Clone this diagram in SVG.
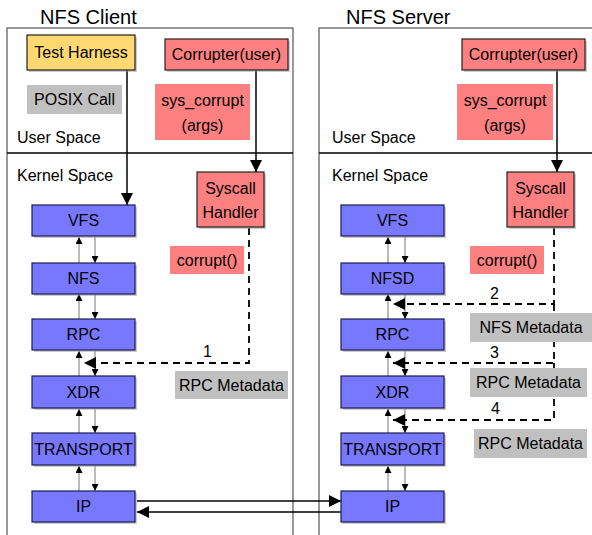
<svg xmlns="http://www.w3.org/2000/svg" width="592" height="535" viewBox="0 0 592 535">
<style>
text{font-family:"Liberation Sans",Arial,sans-serif;fill:#000;}
.t{font-size:16px;text-anchor:middle;}
.s{font-size:16px;}
.h{font-size:20px;}
.panel{fill:#fff;stroke:#555;stroke-width:1.2;}
.div{stroke:#000;stroke-width:1.5;}
.blue{fill:#7878ff;stroke:#1c1c50;stroke-width:1.2;}
.yel{fill:#ffd872;stroke:#222;stroke-width:1.2;}
.red{fill:#ff8080;stroke:#222;stroke-width:1.2;}
.redn{fill:#ff8080;}
.gray{fill:#c0c0c0;}
.sh{fill:#999;opacity:0.5;}
.thin{stroke:#777;stroke-width:1;fill:none;}
.solid{stroke:#000;stroke-width:1.5;fill:none;}
.dash{stroke:#000;stroke-width:1.8;fill:none;stroke-dasharray:7,5;}
</style>
<defs>
<marker id="a" viewBox="0 0 10 10" refX="10" refY="5" markerWidth="7" markerHeight="7" markerUnits="userSpaceOnUse" orient="auto"><path d="M0,0L10,5L0,10z" fill="#000"/></marker>
<marker id="b" viewBox="0 0 10 10" refX="10" refY="5" markerWidth="12" markerHeight="12" markerUnits="userSpaceOnUse" orient="auto"><path d="M0,0L10,5L0,10z" fill="#000"/></marker>
</defs>
<rect width="592" height="535" fill="#fff"/>
<g id="client-panel">
<rect class="panel" x="7" y="28" width="286" height="515"/>
<line class="div" x1="7" y1="153" x2="293" y2="153"/>
<text class="h" x="40" y="24">NFS Client</text>
<text class="s" x="17" y="143">User Space</text>
<text class="s" x="17" y="181">Kernel Space</text>
</g>
<g id="server-panel">
<rect class="panel" x="319" y="28" width="290" height="515"/>
<line class="div" x1="319" y1="153" x2="592" y2="153"/>
<text class="h" x="346" y="24">NFS Server</text>
<text class="s" x="332" y="143">User Space</text>
<text class="s" x="332" y="181">Kernel Space</text>
</g>
<g id="connectors">
<line class="solid" x1="127" y1="70" x2="127" y2="205" marker-end="url(#b)"/>
<line class="solid" x1="256" y1="70" x2="256" y2="172" marker-end="url(#b)"/>
<line class="solid" x1="557" y1="70" x2="557" y2="172" marker-end="url(#b)"/>
<line class="thin" x1="79" y1="263" x2="79" y2="237" marker-end="url(#a)"/>
<line class="thin" x1="95" y1="237" x2="95" y2="263" marker-end="url(#a)"/>
<line class="thin" x1="79" y1="319" x2="79" y2="294" marker-end="url(#a)"/>
<line class="thin" x1="95" y1="294" x2="95" y2="319" marker-end="url(#a)"/>
<line class="thin" x1="79" y1="376" x2="79" y2="351" marker-end="url(#a)"/>
<line class="thin" x1="95" y1="351" x2="95" y2="376" marker-end="url(#a)"/>
<line class="thin" x1="79" y1="433" x2="79" y2="409" marker-end="url(#a)"/>
<line class="thin" x1="95" y1="409" x2="95" y2="433" marker-end="url(#a)"/>
<line class="thin" x1="79" y1="491" x2="79" y2="466" marker-end="url(#a)"/>
<line class="thin" x1="95" y1="466" x2="95" y2="491" marker-end="url(#a)"/>
<line class="thin" x1="388" y1="263" x2="388" y2="237" marker-end="url(#a)"/>
<line class="thin" x1="405" y1="237" x2="405" y2="263" marker-end="url(#a)"/>
<line class="thin" x1="388" y1="319" x2="388" y2="294" marker-end="url(#a)"/>
<line class="thin" x1="405" y1="294" x2="405" y2="319" marker-end="url(#a)"/>
<line class="thin" x1="388" y1="376" x2="388" y2="351" marker-end="url(#a)"/>
<line class="thin" x1="405" y1="351" x2="405" y2="376" marker-end="url(#a)"/>
<line class="thin" x1="388" y1="433" x2="388" y2="409" marker-end="url(#a)"/>
<line class="thin" x1="405" y1="409" x2="405" y2="433" marker-end="url(#a)"/>
<line class="thin" x1="388" y1="491" x2="388" y2="466" marker-end="url(#a)"/>
<line class="thin" x1="405" y1="466" x2="405" y2="491" marker-end="url(#a)"/>
<polyline class="dash" points="249,228 249,363 84,363" marker-end="url(#b)"/>
<polyline class="dash" points="554,228 554,304 393,304" marker-end="url(#b)"/>
<polyline class="dash" points="554,304 554,363 393,363" marker-end="url(#b)"/>
<polyline class="dash" points="554,363 554,420 393,420" marker-end="url(#b)"/>
<text class="s" x="203" y="357">1</text>
<text class="s" x="490" y="299">2</text>
<text class="s" x="490" y="358">3</text>
<text class="s" x="491" y="414">4</text>
<line class="solid" x1="137" y1="501" x2="341" y2="501" marker-end="url(#b)"/>
<line class="solid" x1="341" y1="512" x2="137" y2="512" marker-end="url(#b)"/>
</g>
<g id="test-harness"><rect class="sh" x="29" y="37" width="108" height="35"/><rect class="yel" x="27" y="35" width="108" height="35"/><text class="t" x="81" y="58">Test Harness</text></g>
<g id="corrupter-client"><rect class="sh" x="167" y="41" width="123" height="31"/><rect class="red" x="165" y="39" width="123" height="31"/><text class="t" x="226.5" y="60">Corrupter(user)</text></g>
<g id="posix-call"><rect class="gray" x="27" y="85" width="95" height="29"/><text class="t" x="74.5" y="105">POSIX Call</text></g>
<g id="sys-corrupt-client"><rect class="redn" x="155" y="84" width="95" height="56"/><text class="t" x="202.5" y="106">sys_corrupt</text><text class="t" x="202.5" y="131">(args)</text></g>
<g id="syscall-client"><rect class="sh" x="199" y="174" width="67" height="55"/><rect class="red" x="197" y="172" width="67" height="55"/><text class="t" x="230.5" y="194">Syscall</text><text class="t" x="230.5" y="218">Handler</text></g>
<g id="corrupt-client"><rect class="redn" x="170" y="246" width="74" height="28"/><text class="t" x="207" y="266">corrupt()</text></g>
<g id="rpcmeta-client"><rect class="gray" x="175" y="371" width="113" height="28"/><text class="t" x="231.5" y="391">RPC Metadata</text></g>
<g id="c-vfs"><rect class="sh" x="34" y="207" width="103" height="31"/><rect class="blue" x="32" y="205" width="103" height="31"/><text class="t" x="83.5" y="226">VFS</text></g>
<g id="c-nfs"><rect class="sh" x="34" y="265" width="103" height="31"/><rect class="blue" x="32" y="263" width="103" height="31"/><text class="t" x="83.5" y="284">NFS</text></g>
<g id="c-rpc"><rect class="sh" x="34" y="321" width="103" height="31"/><rect class="blue" x="32" y="319" width="103" height="31"/><text class="t" x="83.5" y="340">RPC</text></g>
<g id="c-xdr"><rect class="sh" x="34" y="378" width="103" height="32"/><rect class="blue" x="32" y="376" width="103" height="32"/><text class="t" x="83.5" y="398">XDR</text></g>
<g id="c-transport"><rect class="sh" x="34" y="435" width="103" height="32"/><rect class="blue" x="32" y="433" width="103" height="32"/><text class="t" x="83.5" y="455">TRANSPORT</text></g>
<g id="c-ip"><rect class="sh" x="34" y="493" width="103" height="31"/><rect class="blue" x="32" y="491" width="103" height="31"/><text class="t" x="83.5" y="512">IP</text></g>
<g id="corrupter-server"><rect class="sh" x="464" y="41" width="123" height="31"/><rect class="red" x="462" y="39" width="123" height="31"/><text class="t" x="523.5" y="60">Corrupter(user)</text></g>
<g id="sys-corrupt-server"><rect class="redn" x="457" y="84" width="96" height="56"/><text class="t" x="505" y="106">sys_corrupt</text><text class="t" x="505" y="131">(args)</text></g>
<g id="syscall-server"><rect class="sh" x="509" y="174" width="67" height="55"/><rect class="red" x="507" y="172" width="67" height="55"/><text class="t" x="540.5" y="194">Syscall</text><text class="t" x="540.5" y="218">Handler</text></g>
<g id="corrupt-server"><rect class="redn" x="470" y="246" width="74" height="28"/><text class="t" x="507" y="266">corrupt()</text></g>
<g id="nfsmeta-server"><rect class="gray" x="470" y="313" width="122" height="29"/><text class="t" x="531" y="333">NFS Metadata</text></g>
<g id="rpcmeta-server-1"><rect class="gray" x="470" y="368" width="117" height="29"/><text class="t" x="528.5" y="388">RPC Metadata</text></g>
<g id="rpcmeta-server-2"><rect class="gray" x="474" y="429" width="113" height="29"/><text class="t" x="530.5" y="449">RPC Metadata</text></g>
<g id="s-vfs"><rect class="sh" x="343" y="207" width="103" height="31"/><rect class="blue" x="341" y="205" width="103" height="31"/><text class="t" x="392.5" y="226">VFS</text></g>
<g id="s-nfsd"><rect class="sh" x="343" y="265" width="103" height="31"/><rect class="blue" x="341" y="263" width="103" height="31"/><text class="t" x="392.5" y="284">NFSD</text></g>
<g id="s-rpc"><rect class="sh" x="343" y="321" width="103" height="31"/><rect class="blue" x="341" y="319" width="103" height="31"/><text class="t" x="392.5" y="340">RPC</text></g>
<g id="s-xdr"><rect class="sh" x="343" y="378" width="103" height="32"/><rect class="blue" x="341" y="376" width="103" height="32"/><text class="t" x="392.5" y="398">XDR</text></g>
<g id="s-transport"><rect class="sh" x="343" y="435" width="103" height="32"/><rect class="blue" x="341" y="433" width="103" height="32"/><text class="t" x="392.5" y="455">TRANSPORT</text></g>
<g id="s-ip"><rect class="sh" x="343" y="493" width="103" height="31"/><rect class="blue" x="341" y="491" width="103" height="31"/><text class="t" x="392.5" y="512">IP</text></g>
</svg>
